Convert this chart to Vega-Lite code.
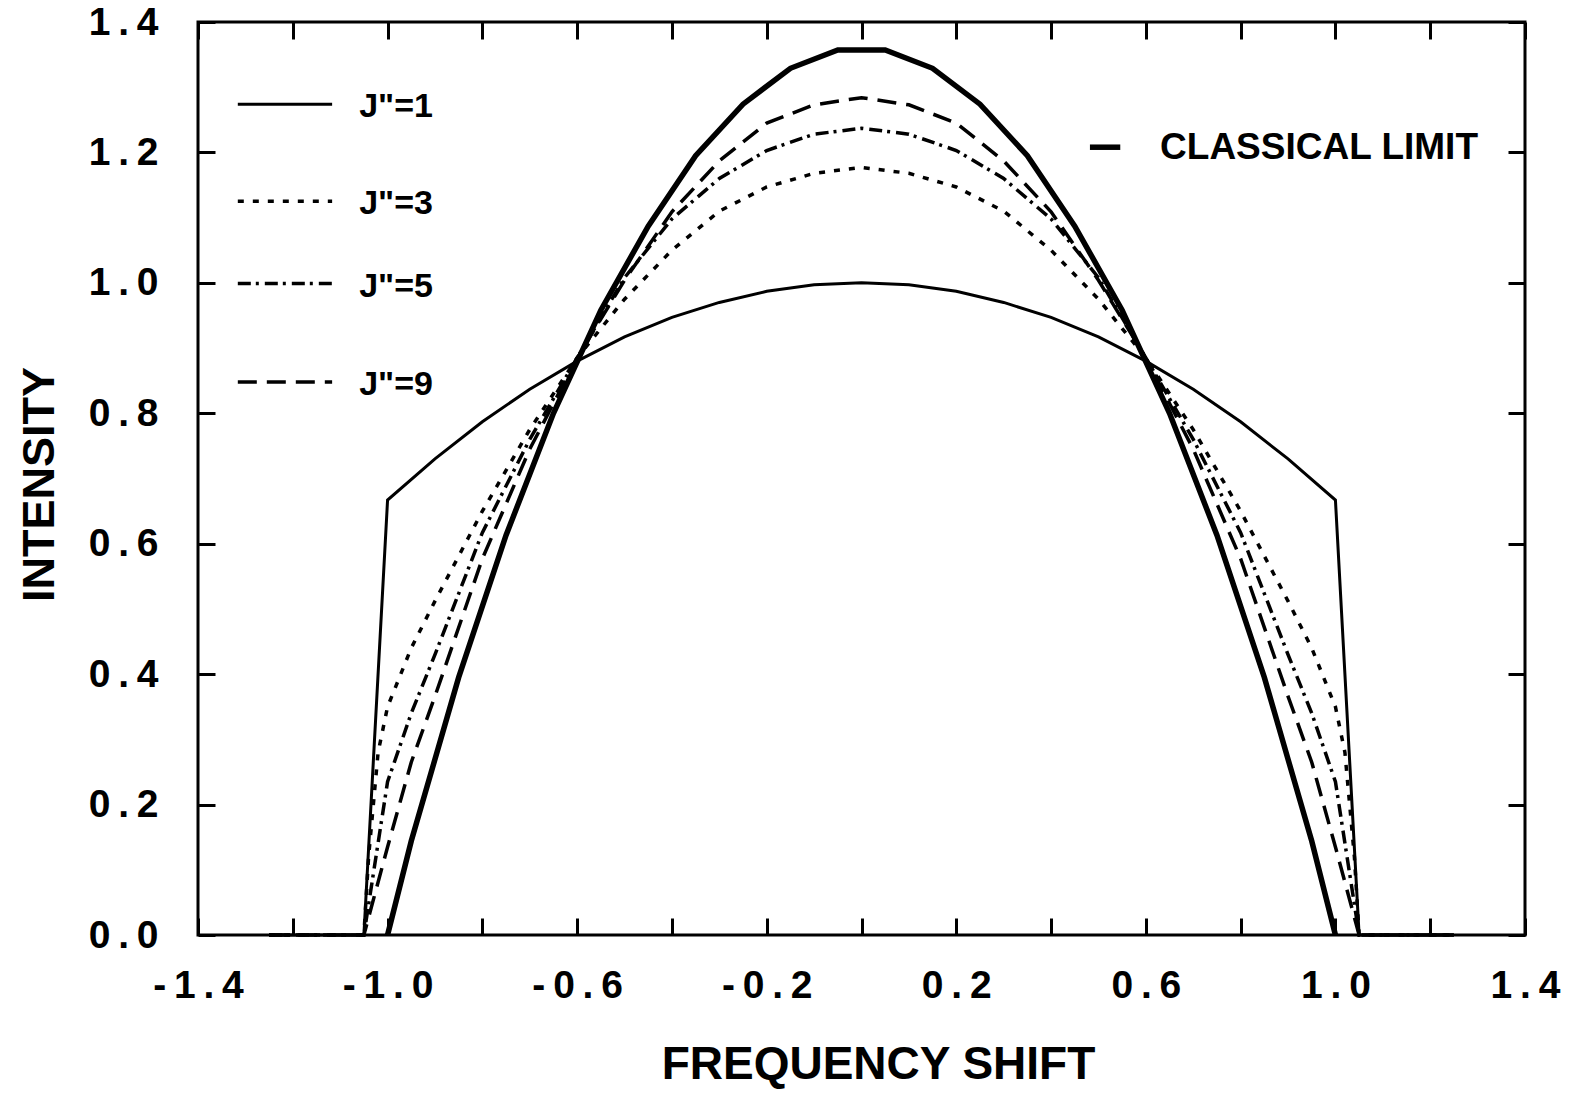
{
  "$schema": "https://vega.github.io/schema/vega-lite/v6.json",
  "width": 1327,
  "height": 913,
  "autosize": {"type": "none"},
  "padding": {"left": 198, "top": 22, "right": 50, "bottom": 158},
  "background": "white",
  "config": {
    "font": "Liberation Sans",
    "view": {"stroke": "black", "strokeWidth": 3},
    "axis": {"grid": false, "domain": false, "tickColor": "black", "tickWidth": 3, "tickSize": -17, "labelColor": "black", "titleColor": "black", "labelFont": "Liberation Sans", "titleFont": "Liberation Sans", "labelFontWeight": "bold", "titleFontWeight": "bold", "labelFlush": false, "labelOverlap": false, "labelBound": false}
  },
  "datasets": {
    "curves": [
      {"series": "J1", "part": "curve", "x": -1.25, "y": 0},
      {"series": "J1", "part": "curve", "x": -1.05, "y": 0},
      {"series": "J1", "part": "curve", "x": -1.0, "y": 0.667},
      {"series": "J1", "part": "curve", "x": -0.9, "y": 0.73},
      {"series": "J1", "part": "curve", "x": -0.8, "y": 0.787},
      {"series": "J1", "part": "curve", "x": -0.7, "y": 0.837},
      {"series": "J1", "part": "curve", "x": -0.6, "y": 0.88},
      {"series": "J1", "part": "curve", "x": -0.5, "y": 0.917},
      {"series": "J1", "part": "curve", "x": -0.4, "y": 0.947},
      {"series": "J1", "part": "curve", "x": -0.3, "y": 0.97},
      {"series": "J1", "part": "curve", "x": -0.2, "y": 0.987},
      {"series": "J1", "part": "curve", "x": -0.1, "y": 0.997},
      {"series": "J1", "part": "curve", "x": 0.0, "y": 1.0},
      {"series": "J1", "part": "curve", "x": 0.1, "y": 0.997},
      {"series": "J1", "part": "curve", "x": 0.2, "y": 0.987},
      {"series": "J1", "part": "curve", "x": 0.3, "y": 0.97},
      {"series": "J1", "part": "curve", "x": 0.4, "y": 0.947},
      {"series": "J1", "part": "curve", "x": 0.5, "y": 0.917},
      {"series": "J1", "part": "curve", "x": 0.6, "y": 0.88},
      {"series": "J1", "part": "curve", "x": 0.7, "y": 0.837},
      {"series": "J1", "part": "curve", "x": 0.8, "y": 0.787},
      {"series": "J1", "part": "curve", "x": 0.9, "y": 0.73},
      {"series": "J1", "part": "curve", "x": 1.0, "y": 0.667},
      {"series": "J1", "part": "curve", "x": 1.05, "y": 0},
      {"series": "J1", "part": "curve", "x": 1.25, "y": 0},

      {"series": "J3", "part": "curve", "x": -1.25, "y": 0},
      {"series": "J3", "part": "curve", "x": -1.05, "y": 0},
      {"series": "J3", "part": "curve", "x": -1.04, "y": 0.12},
      {"series": "J3", "part": "curve", "x": -1.02, "y": 0.28},
      {"series": "J3", "part": "curve", "x": -1.0, "y": 0.35},
      {"series": "J3", "part": "curve", "x": -0.95, "y": 0.44},
      {"series": "J3", "part": "curve", "x": -0.9, "y": 0.512},
      {"series": "J3", "part": "curve", "x": -0.8, "y": 0.65},
      {"series": "J3", "part": "curve", "x": -0.7, "y": 0.775},
      {"series": "J3", "part": "curve", "x": -0.6, "y": 0.885},
      {"series": "J3", "part": "curve", "x": -0.5, "y": 0.975},
      {"series": "J3", "part": "curve", "x": -0.4, "y": 1.05},
      {"series": "J3", "part": "curve", "x": -0.3, "y": 1.11},
      {"series": "J3", "part": "curve", "x": -0.2, "y": 1.147},
      {"series": "J3", "part": "curve", "x": -0.1, "y": 1.168},
      {"series": "J3", "part": "curve", "x": 0.0, "y": 1.177},
      {"series": "J3", "part": "curve", "x": 0.1, "y": 1.168},
      {"series": "J3", "part": "curve", "x": 0.2, "y": 1.147},
      {"series": "J3", "part": "curve", "x": 0.3, "y": 1.11},
      {"series": "J3", "part": "curve", "x": 0.4, "y": 1.05},
      {"series": "J3", "part": "curve", "x": 0.5, "y": 0.975},
      {"series": "J3", "part": "curve", "x": 0.6, "y": 0.885},
      {"series": "J3", "part": "curve", "x": 0.7, "y": 0.775},
      {"series": "J3", "part": "curve", "x": 0.8, "y": 0.65},
      {"series": "J3", "part": "curve", "x": 0.9, "y": 0.512},
      {"series": "J3", "part": "curve", "x": 0.95, "y": 0.44},
      {"series": "J3", "part": "curve", "x": 1.0, "y": 0.35},
      {"series": "J3", "part": "curve", "x": 1.02, "y": 0.28},
      {"series": "J3", "part": "curve", "x": 1.04, "y": 0.12},
      {"series": "J3", "part": "curve", "x": 1.05, "y": 0},
      {"series": "J3", "part": "curve", "x": 1.25, "y": 0},

      {"series": "J5", "part": "curve", "x": -1.25, "y": 0},
      {"series": "J5", "part": "curve", "x": -1.05, "y": 0},
      {"series": "J5", "part": "curve", "x": -1.0, "y": 0.235},
      {"series": "J5", "part": "curve", "x": -0.95, "y": 0.34},
      {"series": "J5", "part": "curve", "x": -0.9, "y": 0.43},
      {"series": "J5", "part": "curve", "x": -0.8, "y": 0.617},
      {"series": "J5", "part": "curve", "x": -0.7, "y": 0.76},
      {"series": "J5", "part": "curve", "x": -0.6, "y": 0.885},
      {"series": "J5", "part": "curve", "x": -0.5, "y": 1.008},
      {"series": "J5", "part": "curve", "x": -0.4, "y": 1.098},
      {"series": "J5", "part": "curve", "x": -0.3, "y": 1.16},
      {"series": "J5", "part": "curve", "x": -0.2, "y": 1.203},
      {"series": "J5", "part": "curve", "x": -0.1, "y": 1.228},
      {"series": "J5", "part": "curve", "x": 0.0, "y": 1.237},
      {"series": "J5", "part": "curve", "x": 0.1, "y": 1.228},
      {"series": "J5", "part": "curve", "x": 0.2, "y": 1.203},
      {"series": "J5", "part": "curve", "x": 0.3, "y": 1.16},
      {"series": "J5", "part": "curve", "x": 0.4, "y": 1.098},
      {"series": "J5", "part": "curve", "x": 0.5, "y": 1.008},
      {"series": "J5", "part": "curve", "x": 0.6, "y": 0.885},
      {"series": "J5", "part": "curve", "x": 0.7, "y": 0.76},
      {"series": "J5", "part": "curve", "x": 0.8, "y": 0.617},
      {"series": "J5", "part": "curve", "x": 0.9, "y": 0.43},
      {"series": "J5", "part": "curve", "x": 0.95, "y": 0.34},
      {"series": "J5", "part": "curve", "x": 1.0, "y": 0.235},
      {"series": "J5", "part": "curve", "x": 1.05, "y": 0},
      {"series": "J5", "part": "curve", "x": 1.25, "y": 0},

      {"series": "J9", "part": "curve", "x": -1.25, "y": 0},
      {"series": "J9", "part": "curve", "x": -1.05, "y": 0},
      {"series": "J9", "part": "curve", "x": -1.0, "y": 0.135},
      {"series": "J9", "part": "curve", "x": -0.95, "y": 0.265},
      {"series": "J9", "part": "curve", "x": -0.9, "y": 0.366},
      {"series": "J9", "part": "curve", "x": -0.8, "y": 0.577},
      {"series": "J9", "part": "curve", "x": -0.7, "y": 0.745},
      {"series": "J9", "part": "curve", "x": -0.6, "y": 0.885},
      {"series": "J9", "part": "curve", "x": -0.5, "y": 1.004},
      {"series": "J9", "part": "curve", "x": -0.4, "y": 1.109},
      {"series": "J9", "part": "curve", "x": -0.3, "y": 1.187},
      {"series": "J9", "part": "curve", "x": -0.2, "y": 1.245},
      {"series": "J9", "part": "curve", "x": -0.1, "y": 1.273},
      {"series": "J9", "part": "curve", "x": 0.0, "y": 1.284},
      {"series": "J9", "part": "curve", "x": 0.1, "y": 1.273},
      {"series": "J9", "part": "curve", "x": 0.2, "y": 1.245},
      {"series": "J9", "part": "curve", "x": 0.3, "y": 1.187},
      {"series": "J9", "part": "curve", "x": 0.4, "y": 1.109},
      {"series": "J9", "part": "curve", "x": 0.5, "y": 1.004},
      {"series": "J9", "part": "curve", "x": 0.6, "y": 0.885},
      {"series": "J9", "part": "curve", "x": 0.7, "y": 0.745},
      {"series": "J9", "part": "curve", "x": 0.8, "y": 0.577},
      {"series": "J9", "part": "curve", "x": 0.9, "y": 0.366},
      {"series": "J9", "part": "curve", "x": 0.95, "y": 0.265},
      {"series": "J9", "part": "curve", "x": 1.0, "y": 0.135},
      {"series": "J9", "part": "curve", "x": 1.05, "y": 0},
      {"series": "J9", "part": "curve", "x": 1.25, "y": 0},

      {"series": "CL", "part": "curve", "x": -1.0, "y": 0},
      {"series": "CL", "part": "curve", "x": -0.95, "y": 0.144},
      {"series": "CL", "part": "curve", "x": -0.85, "y": 0.395},
      {"series": "CL", "part": "curve", "x": -0.75, "y": 0.613},
      {"series": "CL", "part": "curve", "x": -0.65, "y": 0.8},
      {"series": "CL", "part": "curve", "x": -0.55, "y": 0.958},
      {"series": "CL", "part": "curve", "x": -0.45, "y": 1.087},
      {"series": "CL", "part": "curve", "x": -0.35, "y": 1.195},
      {"series": "CL", "part": "curve", "x": -0.25, "y": 1.274},
      {"series": "CL", "part": "curve", "x": -0.15, "y": 1.329},
      {"series": "CL", "part": "curve", "x": -0.05, "y": 1.357},
      {"series": "CL", "part": "curve", "x": 0.05, "y": 1.357},
      {"series": "CL", "part": "curve", "x": 0.15, "y": 1.329},
      {"series": "CL", "part": "curve", "x": 0.25, "y": 1.274},
      {"series": "CL", "part": "curve", "x": 0.35, "y": 1.195},
      {"series": "CL", "part": "curve", "x": 0.45, "y": 1.087},
      {"series": "CL", "part": "curve", "x": 0.55, "y": 0.958},
      {"series": "CL", "part": "curve", "x": 0.65, "y": 0.8},
      {"series": "CL", "part": "curve", "x": 0.75, "y": 0.613},
      {"series": "CL", "part": "curve", "x": 0.85, "y": 0.395},
      {"series": "CL", "part": "curve", "x": 0.95, "y": 0.144},
      {"series": "CL", "part": "curve", "x": 1.0, "y": 0},

      {"series": "J1", "part": "legend", "x": -1.316, "y": 1.274},
      {"series": "J1", "part": "legend", "x": -1.117, "y": 1.274},
      {"series": "J3", "part": "legend", "x": -1.316, "y": 1.125},
      {"series": "J3", "part": "legend", "x": -1.117, "y": 1.125},
      {"series": "J5", "part": "legend", "x": -1.316, "y": 0.999},
      {"series": "J5", "part": "legend", "x": -1.117, "y": 0.999},
      {"series": "J9", "part": "legend", "x": -1.316, "y": 0.848},
      {"series": "J9", "part": "legend", "x": -1.117, "y": 0.848},
      {"series": "CL", "part": "legend", "x": 0.482, "y": 1.208},
      {"series": "CL", "part": "legend", "x": 0.546, "y": 1.208}
    ],
    "labels": [
      {"kind": "J", "text": "J\"=1", "x": -1.06, "y": 1.274},
      {"kind": "J", "text": "J\"=3", "x": -1.06, "y": 1.125},
      {"kind": "J", "text": "J\"=5", "x": -1.06, "y": 0.999},
      {"kind": "J", "text": "J\"=9", "x": -1.06, "y": 0.848},
      {"kind": "C", "text": "CLASSICAL LIMIT", "x": 0.63, "y": 1.208}
    ]
  },
  "layer": [
    {
      "data": {"name": "curves"},
      "transform": [{"filter": "datum.series == 'J1'"}],
      "mark": {"type": "line", "stroke": "black", "strokeWidth": 3},
      "encoding": {
        "x": {"field": "x", "type": "quantitative",
          "scale": {"domain": [-1.4, 1.4], "nice": false, "zero": false},
          "axis": {"orient": "bottom",
            "values": [-1.4, -1.2, -1.0, -0.8, -0.6, -0.4, -0.2, 0, 0.2, 0.4, 0.6, 0.8, 1.0, 1.2, 1.4],
            "labelExpr": "round((datum.value + 1.4) * 5) % 2 == 0 ? join(split(replace(format(datum.value, '.1f'), '\u2212', '-'), ''), '\u2009') : ''",
            "labelFontSize": 39, "labelPadding": 48,
            "title": "FREQUENCY SHIFT", "titleFontSize": 46,
            "titleX": 680, "titleY": 143, "titleBaseline": "alphabetic", "titleAlign": "center"}},
        "y": {"field": "y", "type": "quantitative",
          "scale": {"domain": [0, 1.4], "nice": false, "zero": false},
          "axis": {"orient": "left",
            "values": [0, 0.2, 0.4, 0.6, 0.8, 1.0, 1.2, 1.4],
            "labelExpr": "join(split(format(datum.value, '.1f'), ''), '\u2009')",
            "labelFontSize": 39, "labelPadding": 57,
            "title": "INTENSITY", "titleFontSize": 45,
            "titleAngle": -90, "titleX": -159, "titleY": 462, "titleAlign": "center", "titleBaseline": "middle"}},
        "detail": {"field": "part"},
        "order": {"field": "x", "type": "quantitative"}
      }
    },
    {
      "data": {"name": "curves"},
      "transform": [{"filter": "datum.series == 'J3'"}],
      "mark": {"type": "line", "stroke": "black", "strokeWidth": 3.5, "strokeDash": [6, 9]},
      "encoding": {
        "x": {"field": "x", "type": "quantitative",
          "scale": {"domain": [-1.4, 1.4], "nice": false, "zero": false},
          "axis": {"orient": "top",
            "values": [-1.4, -1.2, -1.0, -0.8, -0.6, -0.4, -0.2, 0, 0.2, 0.4, 0.6, 0.8, 1.0, 1.2, 1.4],
            "labels": false, "title": null}},
        "y": {"field": "y", "type": "quantitative",
          "scale": {"domain": [0, 1.4], "nice": false, "zero": false},
          "axis": {"orient": "right",
            "values": [0, 0.2, 0.4, 0.6, 0.8, 1.0, 1.2, 1.4],
            "labels": false, "title": null}},
        "detail": {"field": "part"},
        "order": {"field": "x", "type": "quantitative"}
      }
    },
    {
      "data": {"name": "curves"},
      "transform": [{"filter": "datum.series == 'J5'"}],
      "mark": {"type": "line", "stroke": "black", "strokeWidth": 3.5, "strokeDash": [13, 5, 3, 6]},
      "encoding": {
        "x": {"field": "x", "type": "quantitative", "scale": {"domain": [-1.4, 1.4], "nice": false, "zero": false}, "axis": null},
        "y": {"field": "y", "type": "quantitative", "scale": {"domain": [0, 1.4], "nice": false, "zero": false}, "axis": null},
        "detail": {"field": "part"},
        "order": {"field": "x", "type": "quantitative"}
      }
    },
    {
      "data": {"name": "curves"},
      "transform": [{"filter": "datum.series == 'J9'"}],
      "mark": {"type": "line", "stroke": "black", "strokeWidth": 3.5, "strokeDash": [19, 10]},
      "encoding": {
        "x": {"field": "x", "type": "quantitative", "scale": {"domain": [-1.4, 1.4], "nice": false, "zero": false}, "axis": null},
        "y": {"field": "y", "type": "quantitative", "scale": {"domain": [0, 1.4], "nice": false, "zero": false}, "axis": null},
        "detail": {"field": "part"},
        "order": {"field": "x", "type": "quantitative"}
      }
    },
    {
      "data": {"name": "curves"},
      "transform": [{"filter": "datum.series == 'CL'"}],
      "mark": {"type": "line", "stroke": "black", "strokeWidth": 5.5},
      "encoding": {
        "x": {"field": "x", "type": "quantitative", "scale": {"domain": [-1.4, 1.4], "nice": false, "zero": false}, "axis": null},
        "y": {"field": "y", "type": "quantitative", "scale": {"domain": [0, 1.4], "nice": false, "zero": false}, "axis": null},
        "detail": {"field": "part"},
        "order": {"field": "x", "type": "quantitative"}
      }
    },
    {
      "data": {"name": "labels"},
      "transform": [{"filter": "datum.kind == 'J'"}],
      "mark": {"type": "text", "align": "left", "baseline": "middle", "fontSize": 34, "fontWeight": "bold", "font": "Liberation Sans", "color": "black", "dy": 3},
      "encoding": {
        "x": {"field": "x", "type": "quantitative", "scale": {"domain": [-1.4, 1.4], "nice": false, "zero": false}, "axis": null},
        "y": {"field": "y", "type": "quantitative", "scale": {"domain": [0, 1.4], "nice": false, "zero": false}, "axis": null},
        "text": {"field": "text"}
      }
    },
    {
      "data": {"name": "labels"},
      "transform": [{"filter": "datum.kind == 'C'"}],
      "mark": {"type": "text", "align": "left", "baseline": "middle", "fontSize": 37, "fontWeight": "bold", "font": "Liberation Sans", "color": "black", "dy": 1},
      "encoding": {
        "x": {"field": "x", "type": "quantitative", "scale": {"domain": [-1.4, 1.4], "nice": false, "zero": false}, "axis": null},
        "y": {"field": "y", "type": "quantitative", "scale": {"domain": [0, 1.4], "nice": false, "zero": false}, "axis": null},
        "text": {"field": "text"}
      }
    }
  ],
  "resolve": {"axis": {"x": "independent", "y": "independent"}}
}
